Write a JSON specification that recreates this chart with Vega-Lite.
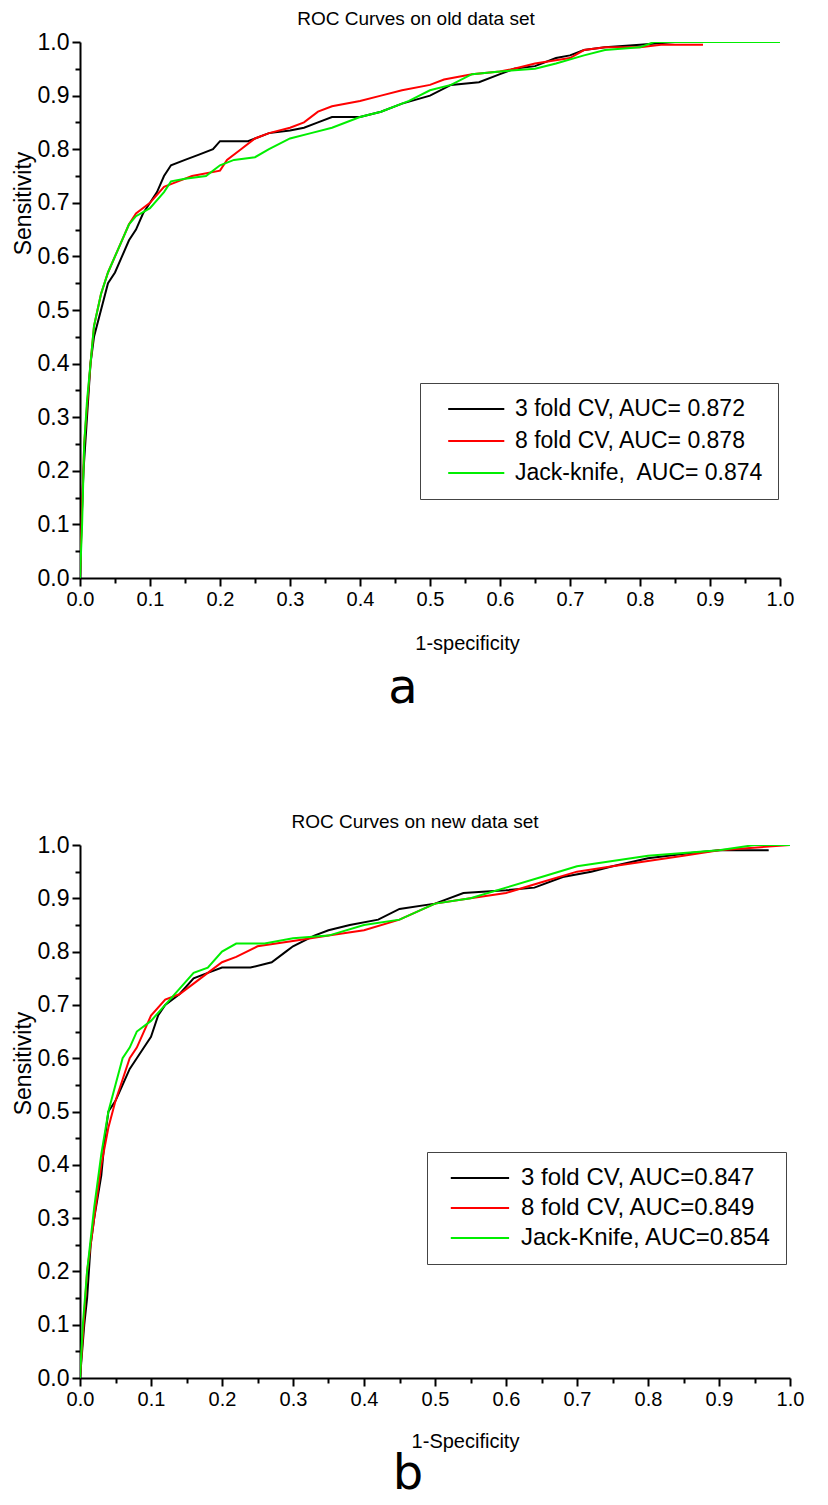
{
  "$schema": "https://vega.github.io/schema/vega-lite/v6.json",
  "background": "white",
  "padding": {"left": 12, "top": 10, "right": 10, "bottom": 0},
  "spacing": 100,
  "datasets": {
    "a": [
      {"series": "3 fold CV, AUC= 0.872", "x": 0, "y": 0},
      {"series": "3 fold CV, AUC= 0.872", "x": 0.002, "y": 0.1},
      {"series": "3 fold CV, AUC= 0.872", "x": 0.005, "y": 0.2},
      {"series": "3 fold CV, AUC= 0.872", "x": 0.01, "y": 0.3},
      {"series": "3 fold CV, AUC= 0.872", "x": 0.015, "y": 0.4},
      {"series": "3 fold CV, AUC= 0.872", "x": 0.02, "y": 0.45},
      {"series": "3 fold CV, AUC= 0.872", "x": 0.03, "y": 0.5},
      {"series": "3 fold CV, AUC= 0.872", "x": 0.04, "y": 0.55},
      {"series": "3 fold CV, AUC= 0.872", "x": 0.05, "y": 0.57},
      {"series": "3 fold CV, AUC= 0.872", "x": 0.06, "y": 0.6},
      {"series": "3 fold CV, AUC= 0.872", "x": 0.07, "y": 0.63},
      {"series": "3 fold CV, AUC= 0.872", "x": 0.08, "y": 0.65},
      {"series": "3 fold CV, AUC= 0.872", "x": 0.09, "y": 0.68},
      {"series": "3 fold CV, AUC= 0.872", "x": 0.1, "y": 0.7},
      {"series": "3 fold CV, AUC= 0.872", "x": 0.11, "y": 0.72},
      {"series": "3 fold CV, AUC= 0.872", "x": 0.12, "y": 0.75},
      {"series": "3 fold CV, AUC= 0.872", "x": 0.13, "y": 0.77},
      {"series": "3 fold CV, AUC= 0.872", "x": 0.15, "y": 0.78},
      {"series": "3 fold CV, AUC= 0.872", "x": 0.17, "y": 0.79},
      {"series": "3 fold CV, AUC= 0.872", "x": 0.19, "y": 0.8},
      {"series": "3 fold CV, AUC= 0.872", "x": 0.2, "y": 0.815},
      {"series": "3 fold CV, AUC= 0.872", "x": 0.24, "y": 0.815},
      {"series": "3 fold CV, AUC= 0.872", "x": 0.27, "y": 0.83},
      {"series": "3 fold CV, AUC= 0.872", "x": 0.3, "y": 0.835},
      {"series": "3 fold CV, AUC= 0.872", "x": 0.32, "y": 0.84},
      {"series": "3 fold CV, AUC= 0.872", "x": 0.34, "y": 0.85},
      {"series": "3 fold CV, AUC= 0.872", "x": 0.36, "y": 0.86},
      {"series": "3 fold CV, AUC= 0.872", "x": 0.4, "y": 0.86},
      {"series": "3 fold CV, AUC= 0.872", "x": 0.43, "y": 0.87},
      {"series": "3 fold CV, AUC= 0.872", "x": 0.46, "y": 0.885},
      {"series": "3 fold CV, AUC= 0.872", "x": 0.5, "y": 0.9},
      {"series": "3 fold CV, AUC= 0.872", "x": 0.53, "y": 0.92},
      {"series": "3 fold CV, AUC= 0.872", "x": 0.57, "y": 0.925},
      {"series": "3 fold CV, AUC= 0.872", "x": 0.6, "y": 0.94},
      {"series": "3 fold CV, AUC= 0.872", "x": 0.62, "y": 0.95},
      {"series": "3 fold CV, AUC= 0.872", "x": 0.65, "y": 0.955},
      {"series": "3 fold CV, AUC= 0.872", "x": 0.68, "y": 0.97},
      {"series": "3 fold CV, AUC= 0.872", "x": 0.7, "y": 0.975},
      {"series": "3 fold CV, AUC= 0.872", "x": 0.72, "y": 0.985},
      {"series": "3 fold CV, AUC= 0.872", "x": 0.75, "y": 0.99},
      {"series": "3 fold CV, AUC= 0.872", "x": 0.8, "y": 0.995},
      {"series": "3 fold CV, AUC= 0.872", "x": 0.85, "y": 1.0},
      {"series": "3 fold CV, AUC= 0.872", "x": 0.89, "y": 1.0},

      {"series": "8 fold CV, AUC= 0.878", "x": 0, "y": 0},
      {"series": "8 fold CV, AUC= 0.878", "x": 0.003, "y": 0.13},
      {"series": "8 fold CV, AUC= 0.878", "x": 0.006, "y": 0.25},
      {"series": "8 fold CV, AUC= 0.878", "x": 0.01, "y": 0.32},
      {"series": "8 fold CV, AUC= 0.878", "x": 0.015, "y": 0.4},
      {"series": "8 fold CV, AUC= 0.878", "x": 0.02, "y": 0.47},
      {"series": "8 fold CV, AUC= 0.878", "x": 0.03, "y": 0.53},
      {"series": "8 fold CV, AUC= 0.878", "x": 0.04, "y": 0.57},
      {"series": "8 fold CV, AUC= 0.878", "x": 0.05, "y": 0.6},
      {"series": "8 fold CV, AUC= 0.878", "x": 0.06, "y": 0.63},
      {"series": "8 fold CV, AUC= 0.878", "x": 0.07, "y": 0.66},
      {"series": "8 fold CV, AUC= 0.878", "x": 0.08, "y": 0.68},
      {"series": "8 fold CV, AUC= 0.878", "x": 0.1, "y": 0.7},
      {"series": "8 fold CV, AUC= 0.878", "x": 0.12, "y": 0.73},
      {"series": "8 fold CV, AUC= 0.878", "x": 0.14, "y": 0.74},
      {"series": "8 fold CV, AUC= 0.878", "x": 0.16, "y": 0.75},
      {"series": "8 fold CV, AUC= 0.878", "x": 0.2, "y": 0.76},
      {"series": "8 fold CV, AUC= 0.878", "x": 0.21, "y": 0.78},
      {"series": "8 fold CV, AUC= 0.878", "x": 0.23, "y": 0.8},
      {"series": "8 fold CV, AUC= 0.878", "x": 0.25, "y": 0.82},
      {"series": "8 fold CV, AUC= 0.878", "x": 0.27, "y": 0.83},
      {"series": "8 fold CV, AUC= 0.878", "x": 0.3, "y": 0.84},
      {"series": "8 fold CV, AUC= 0.878", "x": 0.32, "y": 0.85},
      {"series": "8 fold CV, AUC= 0.878", "x": 0.34, "y": 0.87},
      {"series": "8 fold CV, AUC= 0.878", "x": 0.36, "y": 0.88},
      {"series": "8 fold CV, AUC= 0.878", "x": 0.4, "y": 0.89},
      {"series": "8 fold CV, AUC= 0.878", "x": 0.43, "y": 0.9},
      {"series": "8 fold CV, AUC= 0.878", "x": 0.46, "y": 0.91},
      {"series": "8 fold CV, AUC= 0.878", "x": 0.5, "y": 0.92},
      {"series": "8 fold CV, AUC= 0.878", "x": 0.52, "y": 0.93},
      {"series": "8 fold CV, AUC= 0.878", "x": 0.56, "y": 0.94},
      {"series": "8 fold CV, AUC= 0.878", "x": 0.6, "y": 0.945},
      {"series": "8 fold CV, AUC= 0.878", "x": 0.62, "y": 0.95},
      {"series": "8 fold CV, AUC= 0.878", "x": 0.65, "y": 0.96},
      {"series": "8 fold CV, AUC= 0.878", "x": 0.7, "y": 0.97},
      {"series": "8 fold CV, AUC= 0.878", "x": 0.72, "y": 0.985},
      {"series": "8 fold CV, AUC= 0.878", "x": 0.75, "y": 0.99},
      {"series": "8 fold CV, AUC= 0.878", "x": 0.8, "y": 0.99},
      {"series": "8 fold CV, AUC= 0.878", "x": 0.83, "y": 0.995},
      {"series": "8 fold CV, AUC= 0.878", "x": 0.89, "y": 0.995},

      {"series": "Jack-knife,  AUC= 0.874", "x": 0, "y": 0},
      {"series": "Jack-knife,  AUC= 0.874", "x": 0.003, "y": 0.1},
      {"series": "Jack-knife,  AUC= 0.874", "x": 0.006, "y": 0.25},
      {"series": "Jack-knife,  AUC= 0.874", "x": 0.01, "y": 0.33},
      {"series": "Jack-knife,  AUC= 0.874", "x": 0.015, "y": 0.4},
      {"series": "Jack-knife,  AUC= 0.874", "x": 0.02, "y": 0.47},
      {"series": "Jack-knife,  AUC= 0.874", "x": 0.03, "y": 0.53},
      {"series": "Jack-knife,  AUC= 0.874", "x": 0.04, "y": 0.57},
      {"series": "Jack-knife,  AUC= 0.874", "x": 0.05, "y": 0.6},
      {"series": "Jack-knife,  AUC= 0.874", "x": 0.06, "y": 0.63},
      {"series": "Jack-knife,  AUC= 0.874", "x": 0.07, "y": 0.66},
      {"series": "Jack-knife,  AUC= 0.874", "x": 0.08, "y": 0.675},
      {"series": "Jack-knife,  AUC= 0.874", "x": 0.1, "y": 0.69},
      {"series": "Jack-knife,  AUC= 0.874", "x": 0.12, "y": 0.72},
      {"series": "Jack-knife,  AUC= 0.874", "x": 0.13, "y": 0.74},
      {"series": "Jack-knife,  AUC= 0.874", "x": 0.15, "y": 0.745},
      {"series": "Jack-knife,  AUC= 0.874", "x": 0.18, "y": 0.75},
      {"series": "Jack-knife,  AUC= 0.874", "x": 0.2, "y": 0.77},
      {"series": "Jack-knife,  AUC= 0.874", "x": 0.22, "y": 0.78},
      {"series": "Jack-knife,  AUC= 0.874", "x": 0.25, "y": 0.785},
      {"series": "Jack-knife,  AUC= 0.874", "x": 0.27, "y": 0.8},
      {"series": "Jack-knife,  AUC= 0.874", "x": 0.3, "y": 0.82},
      {"series": "Jack-knife,  AUC= 0.874", "x": 0.33, "y": 0.83},
      {"series": "Jack-knife,  AUC= 0.874", "x": 0.36, "y": 0.84},
      {"series": "Jack-knife,  AUC= 0.874", "x": 0.4, "y": 0.86},
      {"series": "Jack-knife,  AUC= 0.874", "x": 0.43, "y": 0.87},
      {"series": "Jack-knife,  AUC= 0.874", "x": 0.47, "y": 0.89},
      {"series": "Jack-knife,  AUC= 0.874", "x": 0.5, "y": 0.91},
      {"series": "Jack-knife,  AUC= 0.874", "x": 0.53, "y": 0.92},
      {"series": "Jack-knife,  AUC= 0.874", "x": 0.56, "y": 0.94},
      {"series": "Jack-knife,  AUC= 0.874", "x": 0.6, "y": 0.945},
      {"series": "Jack-knife,  AUC= 0.874", "x": 0.65, "y": 0.95},
      {"series": "Jack-knife,  AUC= 0.874", "x": 0.68, "y": 0.96},
      {"series": "Jack-knife,  AUC= 0.874", "x": 0.72, "y": 0.975},
      {"series": "Jack-knife,  AUC= 0.874", "x": 0.75, "y": 0.985},
      {"series": "Jack-knife,  AUC= 0.874", "x": 0.8, "y": 0.99},
      {"series": "Jack-knife,  AUC= 0.874", "x": 0.82, "y": 1.0},
      {"series": "Jack-knife,  AUC= 0.874", "x": 1.0, "y": 1.0}
    ],
    "b": [
      {"series": "3 fold CV, AUC=0.847", "x": 0, "y": 0},
      {"series": "3 fold CV, AUC=0.847", "x": 0.003, "y": 0.05},
      {"series": "3 fold CV, AUC=0.847", "x": 0.006, "y": 0.1},
      {"series": "3 fold CV, AUC=0.847", "x": 0.01, "y": 0.15},
      {"series": "3 fold CV, AUC=0.847", "x": 0.015, "y": 0.25},
      {"series": "3 fold CV, AUC=0.847", "x": 0.02, "y": 0.3},
      {"series": "3 fold CV, AUC=0.847", "x": 0.03, "y": 0.38},
      {"series": "3 fold CV, AUC=0.847", "x": 0.035, "y": 0.45},
      {"series": "3 fold CV, AUC=0.847", "x": 0.04, "y": 0.5},
      {"series": "3 fold CV, AUC=0.847", "x": 0.05, "y": 0.52},
      {"series": "3 fold CV, AUC=0.847", "x": 0.06, "y": 0.55},
      {"series": "3 fold CV, AUC=0.847", "x": 0.07, "y": 0.58},
      {"series": "3 fold CV, AUC=0.847", "x": 0.08, "y": 0.6},
      {"series": "3 fold CV, AUC=0.847", "x": 0.09, "y": 0.62},
      {"series": "3 fold CV, AUC=0.847", "x": 0.1, "y": 0.64},
      {"series": "3 fold CV, AUC=0.847", "x": 0.11, "y": 0.68},
      {"series": "3 fold CV, AUC=0.847", "x": 0.12, "y": 0.7},
      {"series": "3 fold CV, AUC=0.847", "x": 0.14, "y": 0.72},
      {"series": "3 fold CV, AUC=0.847", "x": 0.16, "y": 0.75},
      {"series": "3 fold CV, AUC=0.847", "x": 0.18, "y": 0.76},
      {"series": "3 fold CV, AUC=0.847", "x": 0.2, "y": 0.77},
      {"series": "3 fold CV, AUC=0.847", "x": 0.24, "y": 0.77},
      {"series": "3 fold CV, AUC=0.847", "x": 0.27, "y": 0.78},
      {"series": "3 fold CV, AUC=0.847", "x": 0.29, "y": 0.8},
      {"series": "3 fold CV, AUC=0.847", "x": 0.3, "y": 0.81},
      {"series": "3 fold CV, AUC=0.847", "x": 0.33, "y": 0.83},
      {"series": "3 fold CV, AUC=0.847", "x": 0.35, "y": 0.84},
      {"series": "3 fold CV, AUC=0.847", "x": 0.38, "y": 0.85},
      {"series": "3 fold CV, AUC=0.847", "x": 0.42, "y": 0.86},
      {"series": "3 fold CV, AUC=0.847", "x": 0.45, "y": 0.88},
      {"series": "3 fold CV, AUC=0.847", "x": 0.5, "y": 0.89},
      {"series": "3 fold CV, AUC=0.847", "x": 0.54, "y": 0.91},
      {"series": "3 fold CV, AUC=0.847", "x": 0.6, "y": 0.915},
      {"series": "3 fold CV, AUC=0.847", "x": 0.64, "y": 0.92},
      {"series": "3 fold CV, AUC=0.847", "x": 0.68, "y": 0.94},
      {"series": "3 fold CV, AUC=0.847", "x": 0.72, "y": 0.95},
      {"series": "3 fold CV, AUC=0.847", "x": 0.75, "y": 0.96},
      {"series": "3 fold CV, AUC=0.847", "x": 0.8, "y": 0.975},
      {"series": "3 fold CV, AUC=0.847", "x": 0.86, "y": 0.985},
      {"series": "3 fold CV, AUC=0.847", "x": 0.9, "y": 0.99},
      {"series": "3 fold CV, AUC=0.847", "x": 0.97, "y": 0.99},

      {"series": "8 fold CV, AUC=0.849", "x": 0, "y": 0},
      {"series": "8 fold CV, AUC=0.849", "x": 0.005, "y": 0.1},
      {"series": "8 fold CV, AUC=0.849", "x": 0.01, "y": 0.2},
      {"series": "8 fold CV, AUC=0.849", "x": 0.02, "y": 0.3},
      {"series": "8 fold CV, AUC=0.849", "x": 0.03, "y": 0.4},
      {"series": "8 fold CV, AUC=0.849", "x": 0.04, "y": 0.47},
      {"series": "8 fold CV, AUC=0.849", "x": 0.05, "y": 0.52},
      {"series": "8 fold CV, AUC=0.849", "x": 0.06, "y": 0.56},
      {"series": "8 fold CV, AUC=0.849", "x": 0.07, "y": 0.6},
      {"series": "8 fold CV, AUC=0.849", "x": 0.08, "y": 0.62},
      {"series": "8 fold CV, AUC=0.849", "x": 0.09, "y": 0.65},
      {"series": "8 fold CV, AUC=0.849", "x": 0.1, "y": 0.68},
      {"series": "8 fold CV, AUC=0.849", "x": 0.12, "y": 0.71},
      {"series": "8 fold CV, AUC=0.849", "x": 0.14, "y": 0.72},
      {"series": "8 fold CV, AUC=0.849", "x": 0.16, "y": 0.74},
      {"series": "8 fold CV, AUC=0.849", "x": 0.18, "y": 0.76},
      {"series": "8 fold CV, AUC=0.849", "x": 0.2, "y": 0.78},
      {"series": "8 fold CV, AUC=0.849", "x": 0.22, "y": 0.79},
      {"series": "8 fold CV, AUC=0.849", "x": 0.25, "y": 0.81},
      {"series": "8 fold CV, AUC=0.849", "x": 0.3, "y": 0.82},
      {"series": "8 fold CV, AUC=0.849", "x": 0.35, "y": 0.83},
      {"series": "8 fold CV, AUC=0.849", "x": 0.4, "y": 0.84},
      {"series": "8 fold CV, AUC=0.849", "x": 0.45, "y": 0.86},
      {"series": "8 fold CV, AUC=0.849", "x": 0.5, "y": 0.89},
      {"series": "8 fold CV, AUC=0.849", "x": 0.55, "y": 0.9},
      {"series": "8 fold CV, AUC=0.849", "x": 0.6, "y": 0.91},
      {"series": "8 fold CV, AUC=0.849", "x": 0.65, "y": 0.93},
      {"series": "8 fold CV, AUC=0.849", "x": 0.7, "y": 0.95},
      {"series": "8 fold CV, AUC=0.849", "x": 0.75, "y": 0.96},
      {"series": "8 fold CV, AUC=0.849", "x": 0.8, "y": 0.97},
      {"series": "8 fold CV, AUC=0.849", "x": 0.85, "y": 0.98},
      {"series": "8 fold CV, AUC=0.849", "x": 0.9, "y": 0.99},
      {"series": "8 fold CV, AUC=0.849", "x": 1.0, "y": 1.0},

      {"series": "Jack-Knife, AUC=0.854", "x": 0, "y": 0},
      {"series": "Jack-Knife, AUC=0.854", "x": 0.004, "y": 0.1},
      {"series": "Jack-Knife, AUC=0.854", "x": 0.01, "y": 0.2},
      {"series": "Jack-Knife, AUC=0.854", "x": 0.02, "y": 0.32},
      {"series": "Jack-Knife, AUC=0.854", "x": 0.03, "y": 0.42},
      {"series": "Jack-Knife, AUC=0.854", "x": 0.04, "y": 0.5},
      {"series": "Jack-Knife, AUC=0.854", "x": 0.05, "y": 0.55},
      {"series": "Jack-Knife, AUC=0.854", "x": 0.06, "y": 0.6},
      {"series": "Jack-Knife, AUC=0.854", "x": 0.07, "y": 0.62},
      {"series": "Jack-Knife, AUC=0.854", "x": 0.08, "y": 0.65},
      {"series": "Jack-Knife, AUC=0.854", "x": 0.1, "y": 0.67},
      {"series": "Jack-Knife, AUC=0.854", "x": 0.12, "y": 0.7},
      {"series": "Jack-Knife, AUC=0.854", "x": 0.14, "y": 0.73},
      {"series": "Jack-Knife, AUC=0.854", "x": 0.16, "y": 0.76},
      {"series": "Jack-Knife, AUC=0.854", "x": 0.18, "y": 0.77},
      {"series": "Jack-Knife, AUC=0.854", "x": 0.2, "y": 0.8},
      {"series": "Jack-Knife, AUC=0.854", "x": 0.22, "y": 0.815},
      {"series": "Jack-Knife, AUC=0.854", "x": 0.26, "y": 0.815},
      {"series": "Jack-Knife, AUC=0.854", "x": 0.3, "y": 0.825},
      {"series": "Jack-Knife, AUC=0.854", "x": 0.35, "y": 0.83},
      {"series": "Jack-Knife, AUC=0.854", "x": 0.4, "y": 0.85},
      {"series": "Jack-Knife, AUC=0.854", "x": 0.45, "y": 0.86},
      {"series": "Jack-Knife, AUC=0.854", "x": 0.5, "y": 0.89},
      {"series": "Jack-Knife, AUC=0.854", "x": 0.55, "y": 0.9},
      {"series": "Jack-Knife, AUC=0.854", "x": 0.6, "y": 0.92},
      {"series": "Jack-Knife, AUC=0.854", "x": 0.65, "y": 0.94},
      {"series": "Jack-Knife, AUC=0.854", "x": 0.7, "y": 0.96},
      {"series": "Jack-Knife, AUC=0.854", "x": 0.75, "y": 0.97},
      {"series": "Jack-Knife, AUC=0.854", "x": 0.8, "y": 0.98},
      {"series": "Jack-Knife, AUC=0.854", "x": 0.85, "y": 0.985},
      {"series": "Jack-Knife, AUC=0.854", "x": 0.9, "y": 0.99},
      {"series": "Jack-Knife, AUC=0.854", "x": 0.95, "y": 1.0},
      {"series": "Jack-Knife, AUC=0.854", "x": 1.0, "y": 1.0}
    ]
  },
  "vconcat": [
    {
      "title": {"text": "a", "orient": "bottom", "anchor": "middle", "fontSize": 48, "font": "DejaVu Sans", "fontWeight": "normal", "offset": 12},
      "vconcat": [
        {
          "title": {"text": "ROC Curves on old data set", "fontSize": 19, "font": "Liberation Sans", "fontWeight": "normal", "anchor": "middle", "offset": 2, "dx": -14},
          "width": 700,
          "height": 536,
          "data": {"name": "a"},
          "mark": {"type": "line", "interpolate": "linear", "strokeWidth": 2, "clip": true},
          "encoding": {
            "x": {"field": "x", "type": "quantitative", "scale": {"domain": [0, 1], "nice": false, "zero": false},
              "axis": {"title": "1-specificity", "titleX": 387, "values": [0,0.05,0.1,0.15,0.2,0.25,0.3,0.35,0.4,0.45,0.5,0.55,0.6,0.65,0.7,0.75,0.8,0.85,0.9,0.95,1.0]}},
            "y": {"field": "y", "type": "quantitative", "scale": {"domain": [0, 1], "nice": false, "zero": false},
              "axis": {"title": "Sensitivity", "titleY": 161, "values": [0,0.05,0.1,0.15,0.2,0.25,0.3,0.35,0.4,0.45,0.5,0.55,0.6,0.65,0.7,0.75,0.8,0.85,0.9,0.95,1.0]}},
            "color": {"field": "series", "type": "nominal",
              "scale": {"domain": ["3 fold CV, AUC= 0.872", "8 fold CV, AUC= 0.878", "Jack-knife,  AUC= 0.874"], "range": ["#000000", "#ff0000", "#00ee00"]},
              "legend": {"title": null, "orient": "none", "legendX": 340, "legendY": 341, "labelFontSize": 23, "rowPadding": 8, "padding": 14,
                "symbolType": "M0.2,0H5.3", "symbolSize": 484, "labelOffset": 57,
                "labelExpr": "replace(datum.label, ',  ', ',\u00a0 ')"}},
            "order": {"field": "x", "type": "quantitative"}
          }
        }
      ]
    },
    {
      "title": {"text": "b", "orient": "bottom", "anchor": "middle", "fontSize": 48, "font": "DejaVu Sans", "fontWeight": "normal", "offset": 0},
      "vconcat": [
        {
          "title": {"text": "ROC Curves on new data set", "fontSize": 19, "font": "Liberation Sans", "fontWeight": "normal", "anchor": "middle", "offset": 2, "dx": -20},
          "width": 710,
          "height": 533,
          "data": {"name": "b"},
          "mark": {"type": "line", "interpolate": "linear", "strokeWidth": 2, "clip": true},
          "encoding": {
            "x": {"field": "x", "type": "quantitative", "scale": {"domain": [0, 1], "nice": false, "zero": false},
              "axis": {"title": "1-Specificity", "titleX": 385, "titlePadding": 22, "values": [0,0.05,0.1,0.15,0.2,0.25,0.3,0.35,0.4,0.45,0.5,0.55,0.6,0.65,0.7,0.75,0.8,0.85,0.9,0.95,1.0]}},
            "y": {"field": "y", "type": "quantitative", "scale": {"domain": [0, 1], "nice": false, "zero": false},
              "axis": {"title": "Sensitivity", "titleY": 218, "values": [0,0.05,0.1,0.15,0.2,0.25,0.3,0.35,0.4,0.45,0.5,0.55,0.6,0.65,0.7,0.75,0.8,0.85,0.9,0.95,1.0]}},
            "color": {"field": "series", "type": "nominal",
              "scale": {"domain": ["3 fold CV, AUC=0.847", "8 fold CV, AUC=0.849", "Jack-Knife, AUC=0.854"], "range": ["#000000", "#ff0000", "#00ee00"]},
              "legend": {"title": null, "orient": "none", "legendX": 347, "legendY": 307, "labelFontSize": 24, "rowPadding": 6, "padding": 14,
                "symbolType": "M-0.2,0H5.1", "symbolSize": 484, "labelOffset": 56}},
            "order": {"field": "x", "type": "quantitative"}
          }
        }
      ]
    }
  ],
  "resolve": {"scale": {"color": "independent"}, "legend": {"color": "independent"}},
  "config": {
    "view": {"stroke": null},
    "font": "Liberation Sans",
    "axis": {
      "grid": false,
      "domainColor": "#000000",
      "domainWidth": 2,
      "tickColor": "#000000",
      "tickWidth": 2,
      "tickSize": {"condition": {"test": "abs(datum.value*10 - round(datum.value*10)) < 0.001", "value": 8}, "value": 5},
      "labelExpr": "abs(datum.value*10 - round(datum.value*10)) < 0.001 ? format(datum.value, '.1f') : ''",
      "labelOverlap": false,
      "labelFlush": false,
      "labelColor": "#000000",
      "titleFontWeight": "normal",
      "titleColor": "#000000",
      "labelFont": "Liberation Sans",
      "titleFont": "Liberation Sans"
    },
    "axisX": {"labelFontSize": 20, "titleFontSize": 20, "labelPadding": 3, "titlePadding": 24},
    "axisY": {"labelFontSize": 23, "titleFontSize": 23, "labelPadding": 3, "titlePadding": 2},
    "legend": {
      "symbolStrokeWidth": 2,
      "labelFont": "Liberation Sans",
      "labelColor": "#000000",
      "labelLimit": 500,
      "strokeColor": "#444444",
      "fillColor": "white"
    }
  }
}
